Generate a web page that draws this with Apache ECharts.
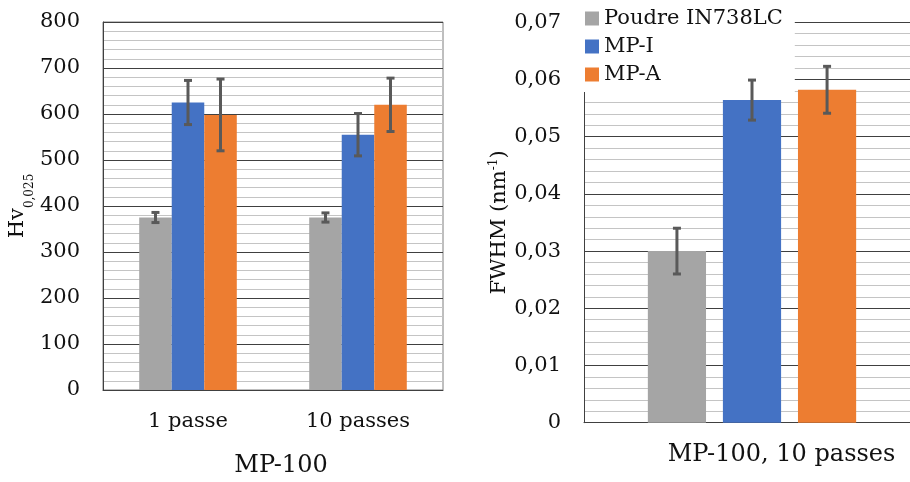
<!DOCTYPE html>
<html>
<head>
<meta charset="utf-8">
<script src="https://cdn.jsdelivr.net/npm/echarts@6/dist/echarts.min.js"></script>
<style>html,body{margin:0;padding:0;background:#fff}#c{width:910px;height:482px}</style>
</head>
<body>
<div id="c"></div>
<script>
// ---- Data ----
const seriesNames = ['Poudre IN738LC', 'MP-I', 'MP-A'];
const categoriesLeft = ['1 passe', '10 passes'];
const hvPoudre = [375, 375];
const hvMPI = [625, 555];
const hvMPA = [598, 620];
const hvErrPoudre = [11, 10];
const hvErrMPI = [48, 46];
const hvErrMPA = [78, 58];
const yLabelsLeft = ['0', '100', '200', '300', '400', '500', '600', '700', '800'];

const categoriesRight = ['MP-100, 10 passes'];
const fwhmPoudre = [0.030];
const fwhmMPI = [0.0564];
const fwhmMPA = [0.0582];
const fwhmErrPoudre = [0.0040];
const fwhmErrMPI = [0.0035];
const fwhmErrMPA = [0.0041];
const yLabelsRight = ['0', '0,01', '0,02', '0,03', '0,04', '0,05', '0,06', '0,07'];

// ---- Style ----
const colors = ['#A5A5A5', '#4472C4', '#ED7D31'];
const FONT = 'DejaVu Serif';
const TXT = '#111111';
const leftCatGap = 0.426, leftBarGap = 0;
const rightCatGap = 0.38, rightBarGap = 0.29;

function errSeries(xIdx, values, errs, si, catGap, barGap) {
  return {
    type: 'custom',
    xAxisIndex: xIdx, yAxisIndex: xIdx,
    z: 10,
    encode: { x: 0, y: 1 },
    data: values.map((v, i) => [i, v, errs[i]]),
    renderItem(params, api) {
      const n = 3;
      const band = api.size([1, 0])[0];
      const w = band * (1 - catGap) / (n + (n - 1) * barGap);
      const gw = n * w + (n - 1) * barGap * w;
      const c = api.coord([api.value(0), 0])[0];
      const x = c - gw / 2 + w / 2 + si * w * (1 + barGap);
      const v = api.value(1), e = api.value(2);
      const yt = api.coord([api.value(0), v + e])[1];
      const yb = api.coord([api.value(0), v - e])[1];
      const cap = 4;
      const st = { stroke: '#595959', lineWidth: 3 };
      return { type: 'group', children: [
        { type: 'line', shape: { x1: x, y1: yt, x2: x, y2: yb }, style: st },
        { type: 'line', shape: { x1: x - cap, y1: yt, x2: x + cap, y2: yt }, style: st },
        { type: 'line', shape: { x1: x - cap, y1: yb, x2: x + cap, y2: yb }, style: st }
      ]};
    }
  };
}

function barSeries(name, xIdx, data, ci, catGap, barGap) {
  return {
    type: 'bar', name: name, xAxisIndex: xIdx, yAxisIndex: xIdx,
    data: data, itemStyle: { color: colors[ci] },
    barGap: (barGap * 100) + '%', barCategoryGap: (catGap * 100) + '%',
    emphasis: { disabled: true }
  };
}

const yCommon = {
  type: 'value',
  axisLine: { show: true, lineStyle: { color: '#404040', width: 1 } },
  axisTick: { show: false },
  splitLine: { show: true, lineStyle: { color: '#404040', width: 1 } },
  minorTick: { show: false, splitNumber: 5 },
  minorSplitLine: { show: true, lineStyle: { color: '#c4c4c4', width: 1 } },
  nameLocation: 'middle',
  nameRotate: 90
};

const chart = echarts.init(document.getElementById('c'), null, { renderer: 'canvas' });
chart.setOption({
  animation: false,
  backgroundColor: '#fff',
  textStyle: { fontFamily: FONT },
  legend: {
    orient: 'vertical', left: 581, top: 4,
    itemWidth: 14, itemHeight: 14, itemGap: 7, icon: 'rect',
    backgroundColor: '#fff', padding: [4, 12, 7, 4],
    textStyle: { fontFamily: FONT, fontSize: 21, color: TXT },
    data: seriesNames
  },
  grid: [
    { left: 103, top: 22, width: 340, height: 368, show: true, borderColor: '#7f7f7f', borderWidth: 1, backgroundColor: 'transparent', outerBoundsMode: 'none' },
    { left: 584, top: 22.3, width: 336, height: 400.4, outerBoundsMode: 'none' }
  ],
  xAxis: [
    {
      type: 'category', gridIndex: 0, data: categoriesLeft,
      axisLine: { lineStyle: { color: '#404040' } }, axisTick: { show: false },
      axisLabel: { fontFamily: FONT, fontSize: 21, color: TXT, margin: 21 },
      name: 'MP-100', nameLocation: 'middle', nameGap: 64,
      nameTextStyle: { fontFamily: FONT, fontSize: 24, color: TXT, padding: [0, 0, 0, 16] }
    },
    {
      type: 'category', gridIndex: 1, data: categoriesRight,
      axisLine: { lineStyle: { color: '#404040' } }, axisTick: { show: false },
      axisLabel: { fontFamily: FONT, fontSize: 24, color: TXT, margin: 20, padding: [0, 0, 0, 59] }
    }
  ],
  yAxis: [
    Object.assign({}, yCommon, {
      gridIndex: 0, min: 0, max: 800, interval: 100,
      axisLabel: { fontFamily: FONT, fontSize: 21, color: TXT, margin: 23,
        formatter: v => yLabelsLeft[Math.round(v / 100)] },
      name: '{h|Hv}{s|0,025}', nameGap: 58,
      nameTextStyle: { color: TXT, rich: {
        h: { fontFamily: FONT, fontSize: 21, color: TXT, lineHeight: 36, verticalAlign: 'middle' },
        s: { fontFamily: FONT, fontSize: 12, color: TXT, lineHeight: 12, verticalAlign: 'bottom' }
      } }
    }),
    Object.assign({}, yCommon, {
      gridIndex: 1, min: 0, max: 0.07, interval: 0.01,
      axisLabel: { fontFamily: FONT, fontSize: 21, color: TXT, margin: 23,
        formatter: v => yLabelsRight[Math.round(v * 100)] },
      name: '{h|FWHM (nm}{s|-1}{h|)}', nameGap: 72,
      nameTextStyle: { color: TXT, rich: {
        h: { fontFamily: FONT, fontSize: 21, color: TXT, lineHeight: 24, verticalAlign: 'middle' },
        s: { fontFamily: FONT, fontSize: 12, color: TXT, lineHeight: 17, verticalAlign: 'top' }
      } }
    })
  ],
  series: [
    barSeries(seriesNames[0], 0, hvPoudre, 0, leftCatGap, leftBarGap),
    barSeries(seriesNames[1], 0, hvMPI, 1, leftCatGap, leftBarGap),
    barSeries(seriesNames[2], 0, hvMPA, 2, leftCatGap, leftBarGap),
    barSeries(seriesNames[0], 1, fwhmPoudre, 0, rightCatGap, rightBarGap),
    barSeries(seriesNames[1], 1, fwhmMPI, 1, rightCatGap, rightBarGap),
    barSeries(seriesNames[2], 1, fwhmMPA, 2, rightCatGap, rightBarGap),
    errSeries(0, hvPoudre, hvErrPoudre, 0, leftCatGap, leftBarGap),
    errSeries(0, hvMPI, hvErrMPI, 1, leftCatGap, leftBarGap),
    errSeries(0, hvMPA, hvErrMPA, 2, leftCatGap, leftBarGap),
    errSeries(1, fwhmPoudre, fwhmErrPoudre, 0, rightCatGap, rightBarGap),
    errSeries(1, fwhmMPI, fwhmErrMPI, 1, rightCatGap, rightBarGap),
    errSeries(1, fwhmMPA, fwhmErrMPA, 2, rightCatGap, rightBarGap)
  ]
});
</script>
</body>
</html>
